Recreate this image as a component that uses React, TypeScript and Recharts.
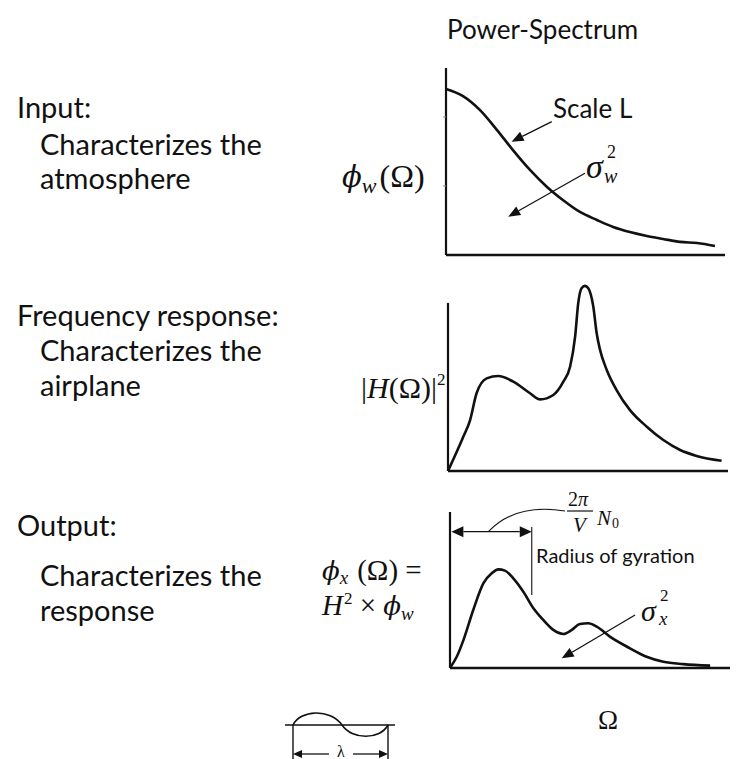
import React from 'react';
import { LineChart, Line, XAxis, YAxis, ReferenceLine } from 'recharts';

// Ω runs 0–100 across each panel, power density in arbitrary units 0–100
const inputOmega = [0, 6.1, 12.2, 18.3, 24.0, 30.1, 36.2, 41.9, 48.0, 54.1, 59.9, 65.9, 72.0, 77.8, 83.9, 90.0, 96.4];
const inputPsd = [88.8, 85.0, 77.5, 66.8, 56.1, 45.5, 36.4, 29.4, 23.0, 18.7, 15.0, 12.3, 10.2, 8.6, 7.0, 6.4, 4.8];

const gainOmega = [0, 5.5, 7.9, 10.2, 13.8, 18.0, 23.3, 29.3, 32.9, 37.6, 41.2, 43.6, 45.4, 46.5, 47.7, 48.9, 50.1, 51.9, 53.1, 54.3, 56.7, 60.2, 65.0, 71.0, 76.9, 82.9, 88.8, 97.7];
const gainSq = [0, 18.0, 26.7, 40.7, 48.5, 49.7, 46.8, 40.7, 37.5, 39.8, 46.8, 54.6, 70.3, 87.8, 95.7, 96.9, 95.7, 86.0, 72.1, 63.4, 52.9, 42.4, 31.9, 23.2, 16.2, 11.0, 7.9, 5.4];

const outputOmega = [0, 2.4, 4.8, 8.3, 11.9, 14.9, 17.3, 19.6, 22.6, 26.2, 29.8, 33.3, 36.9, 40.5, 43.5, 46.4, 49.4, 52.4, 57.1, 64.3, 70.2, 76.2, 83.3, 92.9];
const outputPsd = [0, 7.2, 17.9, 37.2, 54.3, 60.7, 63.2, 62.4, 57.5, 48.9, 38.3, 30.8, 24.4, 21.8, 24.4, 28.2, 28.7, 26.5, 20.1, 12.6, 7.2, 4.0, 2.5, 1.5];

// small tick marks on the input spectrum's vertical axis
const inputTicks = [73.8, 36.9];

const toRows = (xs: number[], ys: number[]) => xs.map((x, i) => ({ x, y: ys[i] }));
const inputData = toRows(inputOmega, inputPsd);
const gainData = toRows(gainOmega, gainSq);
const outputData = toRows(outputOmega, outputPsd);

const SANS = 'Lato, "Open Sans", sans-serif';
const SERIF = '"Liberation Serif", "DejaVu Serif", serif';
const PHI = '"DejaVu Serif", serif';
const PAD = 6;
const INK = '#111';

type Rect = { left: number; top: number; width: number; height: number };

// straight annotation line with filled arrowheads
const arrowShape = (both: boolean, len = 12, wid = 10, sw = 1.3) => (p: any) => {
  const { x1, y1, x2, y2 } = p;
  const dx = x2 - x1;
  const dy = y2 - y1;
  const d = Math.hypot(dx, dy) || 1;
  const ux = dx / d;
  const uy = dy / d;
  const nx = -uy;
  const ny = ux;
  const head = (tx: number, ty: number, sx: number, sy: number) => {
    const bx = tx - sx * len;
    const by = ty - sy * len;
    return `${tx},${ty} ${bx + (nx * wid) / 2},${by + (ny * wid) / 2} ${bx - (nx * wid) / 2},${by - (ny * wid) / 2}`;
  };
  const lx1 = both ? x1 + ux * len : x1;
  const ly1 = both ? y1 + uy * len : y1;
  return (
    <g>
      <line x1={lx1} y1={ly1} x2={x2 - ux * len} y2={y2 - uy * len} stroke={INK} strokeWidth={sw} />
      <polygon points={head(x2, y2, ux, uy)} fill={INK} />
      {both && <polygon points={head(x1, y1, -ux, -uy)} fill={INK} />}
    </g>
  );
};

const plainShape = (sw: number, color = INK) => (p: any) => (
  <line x1={p.x1} y1={p.y1} x2={p.x2} y2={p.y2} stroke={color} strokeWidth={sw} />
);

// curved leader from the arrow up to the 2π/V·N0 label
const arcShape = (p: any) => {
  const { x1, y1, x2, y2 } = p;
  const cx = x1 + 0.35 * (x2 - x1);
  const cy = Math.min(y1, y2) - 8;
  return <path d={`M${x1},${y1} Q${cx},${cy} ${x2},${y2}`} fill="none" stroke={INK} strokeWidth={1.1} />;
};

function Panel({ rect, data, children, axisTop = 100 }: { rect: Rect; data: any[]; children?: React.ReactNode; axisTop?: number }) {
  return (
    <div style={{ position: 'absolute', left: rect.left - PAD, top: rect.top - PAD }}>
      <LineChart width={rect.width + 2 * PAD} height={rect.height + 2 * PAD} data={data} margin={{ top: PAD, right: PAD, bottom: PAD, left: PAD }}>
        <XAxis type="number" dataKey="x" domain={[0, 100]} hide />
        <YAxis type="number" domain={[0, 100]} hide />
        <ReferenceLine y={0} stroke={INK} strokeWidth={2.6} />
        <ReferenceLine segment={[{ x: 0, y: 0 }, { x: 0, y: axisTop }]} shape={plainShape(2.2)} ifOverflow="visible" />
        {children}
        <Line type="monotone" dataKey="y" stroke={INK} strokeWidth={2.6} dot={false} isAnimationActive={false} />
      </LineChart>
    </div>
  );
}

const P1: Rect = { left: 446, top: 68, width: 279, height: 187 };
const P2: Rect = { left: 448, top: 280, width: 280, height: 191 };
const P3: Rect = { left: 450, top: 512, width: 280, height: 156 };

const it = { fontStyle: 'italic' } as React.CSSProperties;

export default function App() {
  return (
    <div style={{ position: 'absolute', left: 0, top: 0, width: 752, height: 759, background: '#fff', overflow: 'hidden' }}>
      <Panel rect={P1} data={inputData}>
        {inputTicks.map((t) => (
          <ReferenceLine key={t} segment={[{ x: -1.1, y: t }, { x: 0, y: t }]} shape={plainShape(1, '#888')} ifOverflow="visible" />
        ))}
        <ReferenceLine segment={[{ x: 37.9, y: 71.3 }, { x: 23.5, y: 60.6 }]} shape={arrowShape(false)} ifOverflow="visible" />
        <ReferenceLine segment={[{ x: 49.8, y: 43.7 }, { x: 22.3, y: 20.5 }]} shape={arrowShape(false)} ifOverflow="visible" />
      </Panel>

      <Panel rect={P2} data={gainData} axisTop={88}>{null}</Panel>

      <Panel rect={P3} data={outputData}>
        <ReferenceLine segment={[{ x: 0.5, y: 87.4 }, { x: 29.2, y: 87.4 }]} shape={arrowShape(true, 12, 11)} ifOverflow="visible" />
        <ReferenceLine segment={[{ x: 29.2, y: 90.4 }, { x: 29.2, y: 46.8 }]} shape={plainShape(1.1)} ifOverflow="visible" />
        <ReferenceLine segment={[{ x: 13.7, y: 87.4 }, { x: 41.1, y: 100.6 }]} shape={arcShape} ifOverflow="visible" />
        <ReferenceLine segment={[{ x: 66.1, y: 34.0 }, { x: 39.9, y: 6.2 }]} shape={arrowShape(false)} ifOverflow="visible" />
      </Panel>

      <svg style={{ position: 'absolute', left: 0, top: 0, pointerEvents: 'none' }} width={752} height={759}>
        <g fontFamily={SANS} fill={INK}>
          <text x={447} y={39} fontSize={26}>Power-Spectrum</text>

          <text x={17} y={117.7} fontSize={29}>Input:</text>
          <text x={40} y={154.7} fontSize={29}>Characterizes the</text>
          <text x={40} y={188.7} fontSize={29}>atmosphere</text>

          <text x={17} y={325.7} fontSize={29}>Frequency response:</text>
          <text x={40} y={360.7} fontSize={29}>Characterizes the</text>
          <text x={40} y={395.7} fontSize={29}>airplane</text>

          <text x={17} y={535.7} fontSize={29}>Output:</text>
          <text x={40} y={585.7} fontSize={29}>Characterizes the</text>
          <text x={40} y={620.7} fontSize={29}>response</text>

          <text x={553} y={118} fontSize={26}>Scale L</text>
          <text x={536} y={563} fontSize={20}>Radius of gyration</text>
        </g>

        <g fontFamily={SERIF} fill={INK}>
          <text x={342} y={187} fontSize={32}>
            <tspan fontFamily={PHI} fontSize={29} style={it}>ϕ</tspan>
            <tspan dy={6} fontSize={22} style={it}>w</tspan>
            <tspan dx={3} dy={-6}>(Ω)</tspan>
          </text>

          <text x={361} y={398} fontSize={30}>
            |<tspan style={it}>H</tspan>(Ω)|<tspan dy={-13} fontSize={17}>2</tspan>
          </text>

          <text x={322} y={580} fontSize={29}>
            <tspan fontFamily={PHI} fontSize={26} style={it}>ϕ</tspan>
            <tspan dy={4} fontSize={19} style={it}>x</tspan>
            <tspan dx={9} dy={-4}>(Ω) =</tspan>
          </text>
          <text x={322} y={615} fontSize={29}>
            <tspan style={it}>H</tspan>
            <tspan dx={1} dy={-11} fontSize={17}>2</tspan>
            <tspan dy={11}> × </tspan>
            <tspan fontFamily={PHI} fontSize={26} style={it}>ϕ</tspan>
            <tspan dy={5} fontSize={19} style={it}>w</tspan>
          </text>

          <text fontSize={34}>
            <tspan x={586} y={178} style={it}>σ</tspan>
            <tspan x={607} y={158} fontSize={18}>2</tspan>
            <tspan x={604} y={183} fontSize={20} style={it}>w</tspan>
          </text>

          <text fontSize={30}>
            <tspan x={641} y={621} style={it}>σ</tspan>
            <tspan x={660} y={601} fontSize={17}>2</tspan>
            <tspan x={659} y={625} fontSize={19} style={it}>x</tspan>
          </text>

          <text fontSize={20}>
            <tspan x={568} y={506}>2</tspan>
            <tspan style={it}>π</tspan>
            <tspan x={573} y={532} fontSize={21} style={it}>V</tspan>
            <tspan x={597} y={525} fontSize={21} style={it}>N</tspan>
            <tspan x={612} y={528} fontSize={14}>0</tspan>
          </text>
          <line x1={567} y1={511} x2={593} y2={511} stroke={INK} strokeWidth={1.2} />

          <text x={598} y={729} fontSize={27}>Ω</text>
        </g>

        <g transform="translate(280,690)">
          <line x1={5} y1={35} x2={115} y2={35} stroke={INK} strokeWidth={1.4} />
          <path d="M13,35 C20,20 50,18 62,35 C72,50 100,50 108,35" fill="none" stroke={INK} strokeWidth={1.6} />
          <line x1={13} y1={35} x2={13} y2={69} stroke={INK} strokeWidth={1.4} />
          <line x1={108} y1={35} x2={108} y2={69} stroke={INK} strokeWidth={1.4} />
          <line x1={20} y1={64} x2={49} y2={64} stroke={INK} strokeWidth={1.3} />
          <polygon points="13,64 22,60 22,68" fill={INK} />
          <line x1={73} y1={64} x2={101} y2={64} stroke={INK} strokeWidth={1.3} />
          <polygon points="108,64 99,60 99,68" fill={INK} />
          <text x={61} y={67} textAnchor="middle" fontFamily={SERIF} fontSize={16} fill={INK}>λ</text>
        </g>
      </svg>
    </div>
  );
}
